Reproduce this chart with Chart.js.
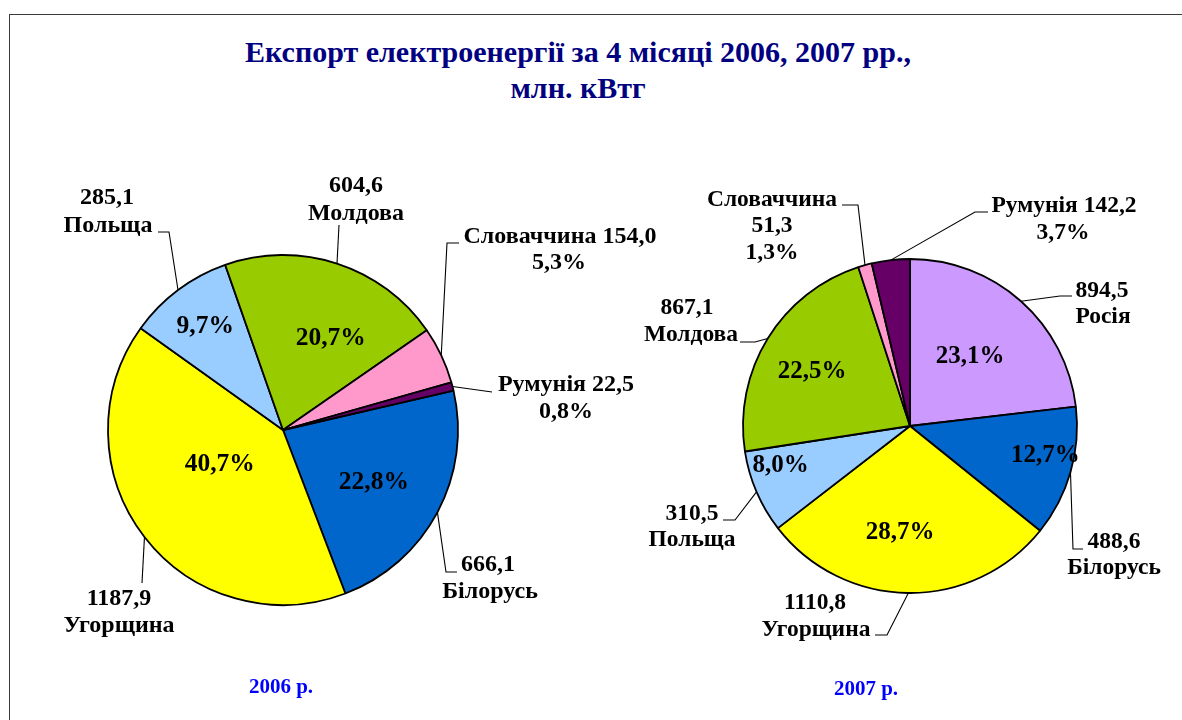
<!DOCTYPE html>
<html lang="uk">
<head>
<meta charset="utf-8">
<title>Експорт електроенергії за 4 місяці 2006, 2007 рр.</title>
<script src="https://cdn.jsdelivr.net/npm/chart.js@4.4.1/dist/chart.umd.min.js"></script>
<style>
  html, body { margin: 0; padding: 0; background: #fff; }
  #page { position: relative; width: 1182px; height: 720px; overflow: hidden;
          font-family: "Liberation Serif", "Times New Roman", serif; }
  #frame { position: absolute; left: 9px; top: 14px; width: 1300px; height: 800px;
           border-left: 1.5px solid #3a3a3a; border-top: 1.5px solid #3a3a3a; }
  .title { position: absolute; left: 0; width: 1156px; text-align: center; color: #000080;
           font-weight: bold; font-size: 30px; line-height: 36px; white-space: nowrap; }
  .year { position: absolute; color: #0000ff; font-weight: bold; font-size: 21px;
          line-height: 24px; transform: translateX(-50%); white-space: nowrap; }
  canvas { position: absolute; left: 0; top: 0; }
</style>
</head>
<body>
<div id="page">
  <div id="frame"></div>
  <div class="title" style="top:34px">Експорт електроенергії за 4 місяці 2006, 2007 рр.,</div>
  <div class="title" style="top:70px">млн. кВтг</div>
  <canvas id="pie2006" width="1182" height="720"></canvas>
  <canvas id="pie2007" width="1182" height="720"></canvas>
  <div class="year" style="left:281px; top:674px">2006 р.</div>
  <div class="year" style="left:866px; top:676px">2007 р.</div>
</div>
<script>
// ── Дані (млн. кВтг та частки, як підписано на діаграмі) ──
const countries2006 = ['Білорусь', 'Угорщина', 'Польща', 'Молдова', 'Словаччина', 'Румунія'];
const values2006 = [666.1, 1187.9, 285.1, 604.6, 154.0, 22.5];
const pct2006 = [22.8, 40.7, 9.7, 20.7, 5.3, 0.8];

const countries2007 = ['Росія', 'Білорусь', 'Угорщина', 'Польща', 'Молдова', 'Словаччина', 'Румунія'];
const values2007 = [894.5, 488.6, 1110.8, 310.5, 867.1, 51.3, 142.2];
const pct2007 = [23.1, 12.7, 28.7, 8.0, 22.5, 1.3, 3.7];

const countryColor = {
    'Росія': '#CC99FF',
    'Білорусь': '#0066CC',
    'Угорщина': '#FFFF00',
    'Польща': '#99CCFF',
    'Молдова': '#99CC00',
    'Словаччина': '#FF99CC',
    'Румунія': '#660066',
};

// Розкладка підписів: зсуви в пікселях від центру кола.
// inner: підпис % всередині сектора (da — поворот від середини, f — частка радіуса)
// at: центри рядків зовнішнього підпису, path: злами лінії-виноски
const layout2006 = [
    { inner: { da: 2, f: 0.60 }, text: ['{v}', '{n}'], at: [[205, 135], [207, 162]], path: [[163, 142], [174, 142]] },
    { inner: { da: 9.4, f: 0.41 }, text: ['{v}', '{n}'], at: [[-164, 169], [-164, 196]], path: [[-141, 153]] },
    { inner: { da: 0, f: 0.74 }, text: ['{v}', '{n}'], at: [[-176, -232], [-175, -204]], path: [[-114, -198], [-125, -198]] },
    { inner: { da: 9.6, f: 0.59 }, text: ['{v}', '{n}'], at: [[73, -244], [73, -216]], path: [[56, -205]] },
    { text: ['{n} {v}', '{p}'], at: [[277, -193], [276, -167]], path: [[164, -187], [176, -187]] },
    { text: ['{n} {v}', '{p}'], at: [[283, -45], [283, -18]], path: [[209, -38]] },
];

const layout2007 = [
    { inner: { da: -0.7, f: 0.55 }, text: ['{v}', '{n}'], at: [[192, -135], [193, -109]], path: [[150, -130], [162, -130]] },
    { inner: { da: -3.6, f: 0.83 }, text: ['{v}', '{n}'], at: [[204, 116], [204, 142]], path: [[163, 123], [173, 123]] },
    { inner: { da: 4.7, f: 0.64 }, text: ['{v}', '{n}'], at: [[-95, 177], [-94, 204]], path: [[-23, 209], [-35, 209]] },
    { inner: { da: 6.2, f: 0.81 }, text: ['{v}', '{n}'], at: [[-218, 88], [-218, 114]], path: [[-175, 94], [-187, 94]] },
    { inner: { da: -2.7, f: 0.67 }, text: ['{v}', '{n}'], at: [[-223, -118], [-219, -91]], path: [[-155, -84], [-170, -84]] },
    { text: ['{n}', '{v}', '{p}'], at: [[-138, -226], [-138, -200], [-138, -173]], path: [[-52, -221], [-68, -221]] },
    { text: ['{n} {v}', '{p}'], at: [[154, -220], [153, -193]], path: [[65, -214], [78, -214]] },
];

const SERIF = '"Liberation Serif", "Times New Roman", serif';
const fmt = v => v.toFixed(1).replace('.', ',');

function makeCallouts(layout, pct, outerSize, innerSize) {
    return {
        id: 'callouts',
        afterDatasetsDraw(chart) {
            const { ctx } = chart;
            const names = chart.data.labels;
            const vals = chart.data.datasets[0].data;
            ctx.save();
            ctx.fillStyle = '#000';
            ctx.strokeStyle = '#000';
            ctx.lineWidth = 1.1;
            ctx.textAlign = 'center';
            ctx.textBaseline = 'middle';
            chart.getDatasetMeta(0).data.forEach((arc, i) => {
                const { x, y, startAngle, endAngle, outerRadius } =
                    arc.getProps(['x', 'y', 'startAngle', 'endAngle', 'outerRadius'], true);
                const mid = (startAngle + endAngle) / 2;
                const lay = layout[i];
                const fill = s => s.replace('{n}', names[i]).replace('{v}', fmt(vals[i])).replace('{p}', fmt(pct[i]) + '%');

                if (lay.inner) {
                    const a = mid + lay.inner.da * Math.PI / 180;
                    const r = lay.inner.f * outerRadius;
                    ctx.font = `bold ${innerSize}px ${SERIF}`;
                    ctx.fillText(fmt(pct[i]) + '%', x + r * Math.cos(a), y + r * Math.sin(a));
                }

                ctx.beginPath();
                ctx.moveTo(x + outerRadius * Math.cos(mid), y + outerRadius * Math.sin(mid));
                lay.path.forEach(p => ctx.lineTo(x + p[0], y + p[1]));
                ctx.stroke();

                ctx.font = `bold ${outerSize}px ${SERIF}`;
                lay.text.forEach((t, k) => ctx.fillText(fill(t), x + lay.at[k][0], y + lay.at[k][1]));
            });
            ctx.restore();
        },
    };
}

function makePie(id, names, values, pct, layout, center, radius, rotation, fonts) {
    const el = document.getElementById(id);
    const W = el.width, H = el.height;
    const hx = Math.min(center[0], W - center[0]);
    const hy = Math.min(center[1], H - center[1]);
    return new Chart(el, {
        type: 'pie',
        data: {
            labels: names,
            datasets: [{
                data: values,
                backgroundColor: names.map(n => countryColor[n]),
                borderColor: '#000',
                borderWidth: 1.8,
            }],
        },
        options: {
            responsive: false,
            animation: false,
            events: [],
            rotation: rotation,
            radius: radius,
            layout: {
                padding: {
                    left: center[0] - hx, right: W - center[0] - hx,
                    top: center[1] - hy, bottom: H - center[1] - hy,
                },
            },
            plugins: {
                legend: { display: false },
                tooltip: { enabled: false },
            },
        },
        plugins: [makeCallouts(layout, pct, fonts[0], fonts[1])],
    });
}

makePie('pie2006', countries2006, values2006, pct2006, layout2006, [283, 430], 175, 77, [24, 25.5]);
makePie('pie2007', countries2007, values2007, pct2007, layout2007, [910, 426], 167, 0, [23.5, 25]);
</script>
</body>
</html>
